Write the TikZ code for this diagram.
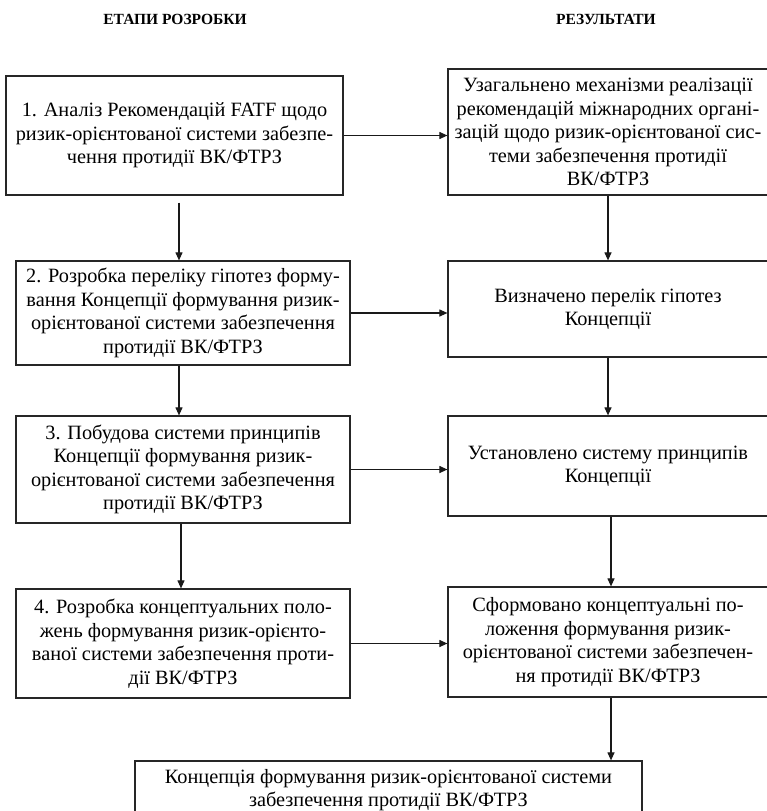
\documentclass[tikz,border=0pt]{standalone}
\usepackage{fontspec}
\setmainfont{Liberation Serif}
\usetikzlibrary{arrows.meta}
\tikzset{
  stagebox/.style={draw=black!85, line width=1.2pt, align=center, inner sep=2pt,
    font=\fontsize{20.3}{23.5}\selectfont},
  flow/.style={-{Triangle[length=8pt,width=7pt]}, line width=1.1pt, draw=black!90},
  colhead/.style={font=\bfseries\fontsize{15.5}{18}\selectfont}
}
\begin{document}
\begin{tikzpicture}[x=1pt,y=-1pt]
  \useasboundingbox (0,0) rectangle (766,811);
  % headers
  \node[colhead] (hstage) at (175,19) {ЕТАПИ РОЗРОБКИ};
  \node[colhead] (hres) at (606,19) {РЕЗУЛЬТАТИ};
  % stages
  \node[stagebox, minimum width=337pt, minimum height=119pt] (L1) at (174.5,135.5)
    {1. Аналіз Рекомендацій FATF щодо\\ризик-орієнтованої системи забезпе-\\чення протидії ВК/ФТРЗ};
  \node[stagebox, minimum width=334pt, minimum height=104pt] (L2) at (183,313)
    {2. Розробка переліку гіпотез форму-\\вання Концепції формування ризик-\\орієнтованої системи забезпечення\\протидії ВК/ФТРЗ};
  \node[stagebox, minimum width=334pt, minimum height=107pt] (L3) at (183,469.5)
    {3. Побудова системи принципів\\Концепції формування ризик-\\орієнтованої системи забезпечення\\протидії ВК/ФТРЗ};
  \node[stagebox, minimum width=334pt, minimum height=109pt] (L4) at (183,643.5)
    {4. Розробка концептуальних поло-\\жень формування ризик-орієнто-\\ваної системи забезпечення проти-\\дії ВК/ФТРЗ};
  % results
  \node[stagebox, minimum width=320pt, minimum height=126pt] (R1) at (608,132)
    {Узагальнено механізми реалізації\\рекомендацій міжнародних органі-\\зацій щодо ризик-орієнтованої сис-\\теми забезпечення протидії\\ВК/ФТРЗ};
  \node[stagebox, minimum width=320pt, minimum height=96pt] (R2) at (608,309)
    {Визначено перелік гіпотез\\Концепції};
  \node[stagebox, minimum width=320pt, minimum height=100pt] (R3) at (608,466)
    {Установлено систему принципів\\Концепції};
  \node[stagebox, minimum width=320pt, minimum height=110pt] (R4) at (608,642)
    {Сформовано концептуальні по-\\ложення формування ризик-\\орієнтованої системи забезпечен-\\ня протидії ВК/ФТРЗ};
  \node[stagebox, minimum width=507pt, minimum height=58pt] (final) at (388.5,790)
    {Концепція формування ризик-орієнтованої системи\\забезпечення протидії ВК/ФТРЗ};
  % arrows
  \draw[flow] ([xshift=4.5pt,yshift=-7pt]L1.south) -- ([xshift=4.5pt]L1.south |- L2.north);
  \draw[flow] ([xshift=-4pt]L2.south) -- ([xshift=-4pt]L2.south |- L3.north);
  \draw[flow] ([xshift=-2pt]L3.south) -- ([xshift=-2pt]L3.south |- L4.north);
  \draw[flow] (R1.south) -- (R2.north);
  \draw[flow] (R2.south) -- (R3.north);
  \draw[flow] ([xshift=3pt]R3.south) -- ([xshift=3pt]R3.south |- R4.north);
  \draw[flow] ([xshift=3pt]R4.south) -- ([xshift=3pt]R4.south |- final.north);
  \draw[flow] (L1.east) -- (L1.east -| R1.west);
  \draw[flow] (L2.east) -- (L2.east -| R2.west);
  \draw[flow] (L3.east) -- (L3.east -| R3.west);
  \draw[flow] (L4.east) -- (L4.east -| R4.west);
\end{tikzpicture}
\end{document}
